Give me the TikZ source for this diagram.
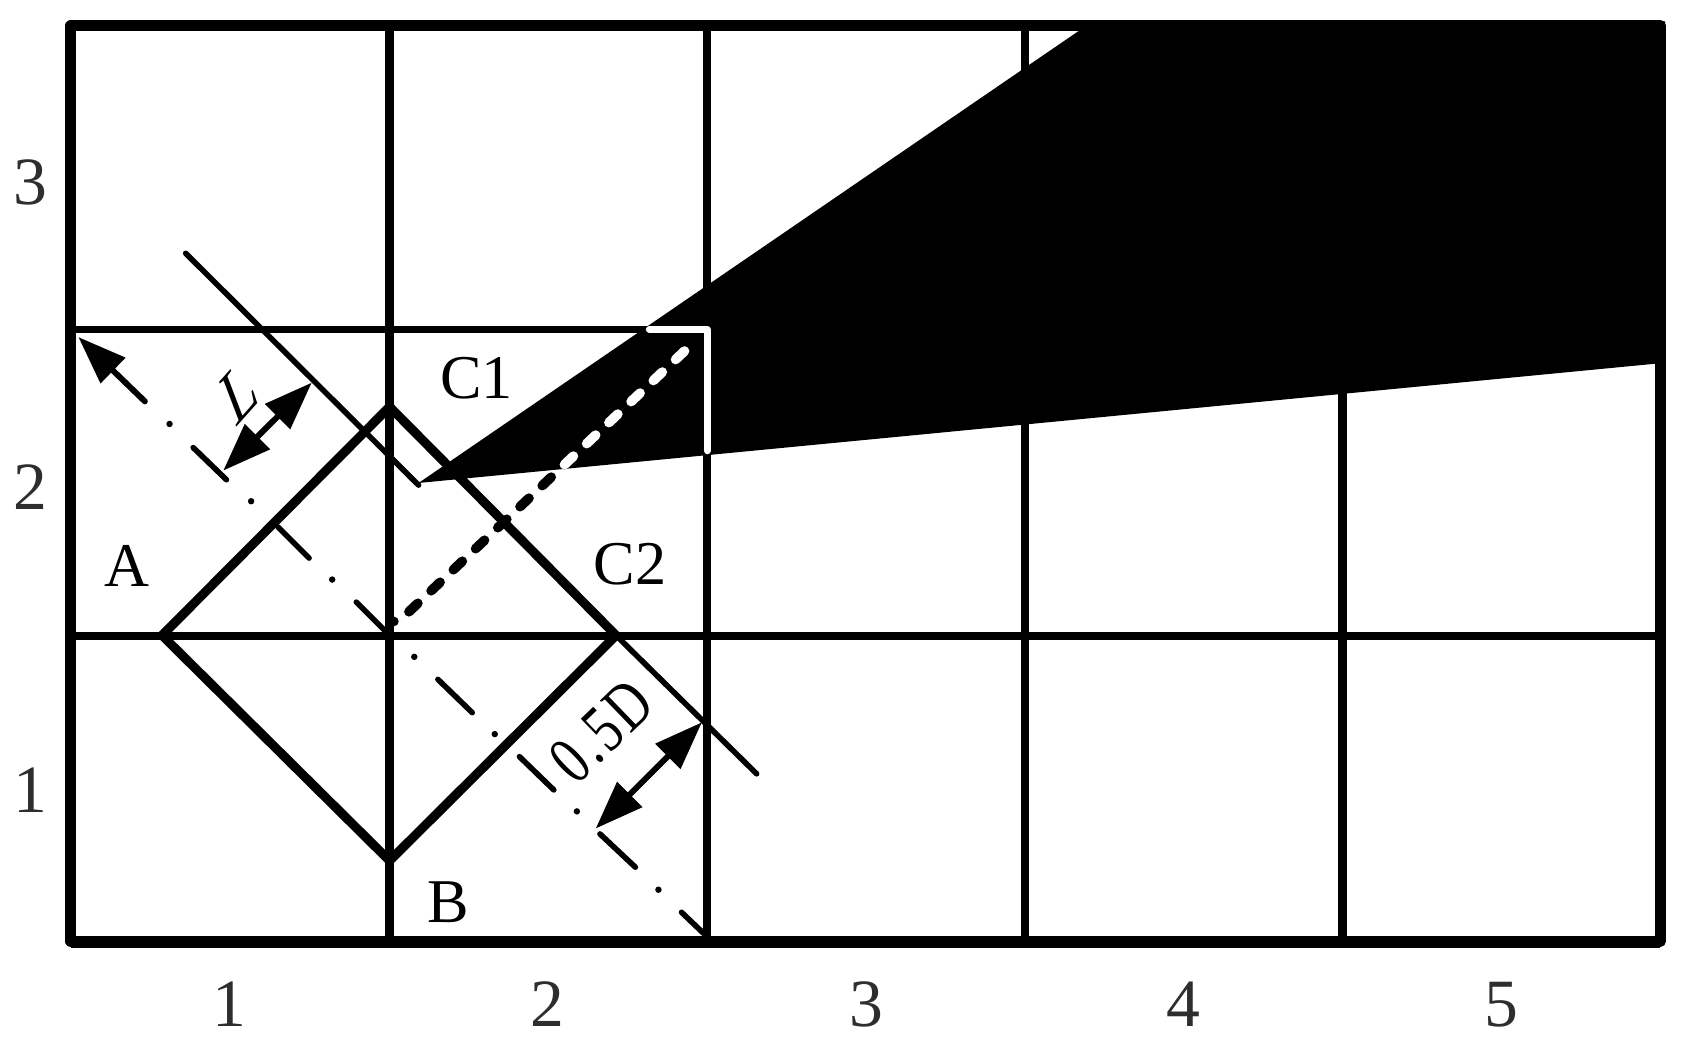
\documentclass[tikz,border=0pt]{standalone}
\usepackage{fontspec}
\setmainfont{Liberation Serif}
\usetikzlibrary{arrows.meta}
\tikzset{
  gridv/.style={line width=7.8pt,black},
  gridh/.style={line width=7.4pt,black},
  outerline/.style={line width=10pt,black,line join=round},
  thinline/.style={line width=5.2pt,black,line cap=round},
  thickline/.style={line width=8.5pt,black,line join=miter},
  centerdot/.style={circle,fill=black,inner sep=0pt,minimum size=6pt},
  dimline/.style={line width=5.5pt,black},
  lab/.style={inner sep=0pt,font=\fontsize{58}{60}\selectfont},
  axis/.style={inner sep=0pt,text=black!82,font=\fontsize{63}{68}\selectfont},
  centredash/.style={line width=9pt,line cap=round,dash pattern=on 11.5pt off 17pt}
}
\begin{document}
\begin{tikzpicture}[x=1pt,y=-1pt,>={Triangle[length=45pt,width=32pt]}]
\useasboundingbox (0,0) rectangle (1570,970);
% grid
\draw[gridv] (363,24) -- (363,877);
\draw[gridv] (659,24) -- (659,877);
\draw[gridv] (955,24) -- (955,877);
\draw[gridv] (1251,24) -- (1251,877);
\draw[gridh] (66,307) -- (659,307);
\draw[gridh] (66,592.5) -- (1547,592.5);
\draw[outerline] (66,24) rectangle (1547,877);
\draw[line width=11pt,black] (66,877.5) -- (1547,877.5);
% dashed axis under the wedge
\coordinate (dashA) at (381,570);
\coordinate (dashB) at (640,325);
\draw[black,centredash] (dashA) -- (dashB);
\fill[black] (367,579) circle (4.5pt);
% wedge
\coordinate (apex) at (390,450);
\coordinate (wedgeT) at (1018,20);
\coordinate (wedgeR) at (1551.5,20);
\coordinate (wedgeB) at (1551.5,338);
\fill[black] (apex) -- (wedgeT) -- (wedgeR) -- (wedgeB) -- cycle;
% white corner lines and dashes in wedge
\draw[white,line width=6.5pt,line cap=round,line join=round] (605,307) -- (659,307) -- (659,420);
\begin{scope}
\clip (apex) -- (wedgeT) -- (wedgeR) -- (wedgeB) -- cycle;
\draw[white,centredash] (dashA) -- (dashB);
\end{scope}
% thin lines
\draw[thinline] (173,236) -- (390,452);
\draw[thinline] (574,592) -- (705,721);
% diamond
\draw[thickline] (151,592) -- (363,379) -- (574,592) -- (363,802) -- cycle;
% chain line
\draw[thinline] (180,417) -- (211,447);
\draw[thinline] (259,491) -- (288,520);
\draw[thinline] (332,561) -- (360,589);
\draw[thinline] (408,633) -- (440,664);
\draw[thinline] (484,705) -- (516,736);
\draw[thinline] (559,777) -- (592,808);
\draw[thinline] (635,850) -- (657,871);
\node[centerdot] (d1) at (158,395) {};
\node[centerdot] (d2) at (234,467) {};
\node[centerdot] (d3) at (309.5,540) {};
\node[centerdot] (d4) at (386,612) {};
\node[centerdot] (d5) at (461,684) {};
\node[centerdot] (d6) at (537.5,756) {};
\node[centerdot] (d7) at (613.5,829) {};
% dimension arrows
\coordinate (tl) at (73,314);
\coordinate (tlend) at (135,374);
\draw[dimline,line cap=round,<-] (tl) -- (tlend);
\coordinate (la) at (290.5,356.5);
\coordinate (lb) at (208,438.5);
\draw[dimline,<->] (la) -- (lb);
\coordinate (da) at (654,673);
\coordinate (db) at (555,772);
\draw[dimline,<->] (da) -- (db);
% labels
\node[lab] (lC1) at (444,352) {C1};
\node[lab] (lC2) at (587,526) {C2};
\node[lab] (lA) at (118,527) {A};
\node[lab] (lB) at (418,841) {B};
\node[lab,cm={.66,.74,-.42,1.1,(0,0)}] (lL) at (223,365) {L};
\node[lab,font=\fontsize{64}{68}\selectfont,rotate=44,xscale=.76] (lD) at (560.5,681) {0\kern.06em.\kern.06em5\kern.06em D};
% axis numbers
\node[axis] (y3) at (28,170) {3};
\node[axis] (y2) at (28,454) {2};
\node[axis] (y1) at (28,736) {1};
\node[axis] (x1) at (214,936) {1};
\node[axis] (x2) at (510,936) {2};
\node[axis] (x3) at (807,936) {3};
\node[axis] (x4) at (1103,936) {4};
\node[axis] (x5) at (1399,936) {5};
\end{tikzpicture}
\end{document}
